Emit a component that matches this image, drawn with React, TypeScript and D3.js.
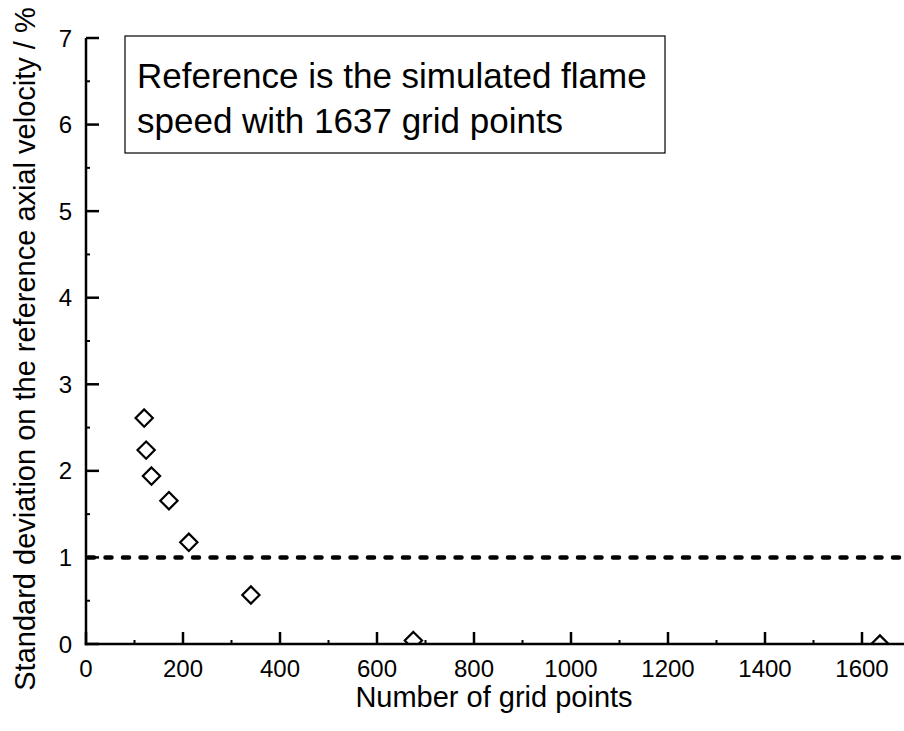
import React from "react";
import * as d3 from "d3";

const gridPoints = [120, 124, 135, 171, 212, 340, 675, 1637];
const stdDev = [2.61, 2.24, 1.94, 1.655, 1.175, 0.566, 0.04, 0];
const xTicks = [0, 200, 400, 600, 800, 1000, 1200, 1400, 1600];
const yTicks = [0, 1, 2, 3, 4, 5, 6, 7];
const thresholdValue = 1;
const xTitle = "Number of grid points";
const yTitle = "Standard deviation on the reference axial velocity / %";
const noteLines = ["Reference is the simulated flame", "speed with 1637 grid points"];

const W = 904;
const H = 731;
const left = 86;
const top = 38;
const bottom = 644;
const font = "Arial, 'Liberation Sans', sans-serif";

export default function App() {
  const x = d3.scaleLinear().domain([0, 1700]).range([left, left + 1700 * 0.485]);
  const y = d3.scaleLinear().domain([0, 7]).range([bottom, top]);
  const right = W;
  const xMinor = d3.range(100, 1700, 200);
  const yMinor = d3.range(0.5, 7, 1);
  const diamond = d3.symbol().type(d3.symbolDiamond2).size(190)();

  return (
    <svg width={W} height={H} style={{ position: "absolute", left: 0, top: 0, background: "#fff" }} fontFamily={font}>
      <defs>
        <clipPath id="plotclip">
          <rect x={left} y={top - 10} width={right - left} height={bottom - top + 10} />
        </clipPath>
      </defs>
      <rect x={0} y={0} width={W} height={H} fill="#fff" />
      {/* threshold dashed line */}
      <line
        x1={left + 2}
        x2={right}
        y1={y(thresholdValue)}
        y2={y(thresholdValue)}
        stroke="#000"
        strokeWidth={4.5}
        strokeDasharray="6 11.5"
        strokeLinecap="round"
      />
      {/* markers */}
      <g clipPath="url(#plotclip)">
        {gridPoints.map((g, i) => (
          <path
            key={i}
            d={diamond || ""}
            transform={`translate(${x(g)},${y(stdDev[i])})`}
            fill="#fff"
            stroke="#000"
            strokeWidth={2.2}
          />
        ))}
      </g>
      {/* axes */}
      <line x1={left} x2={left} y1={top} y2={bottom + 1.25} stroke="#000" strokeWidth={2.5} />
      <line x1={left - 1.25} x2={right} y1={bottom} y2={bottom} stroke="#000" strokeWidth={2.5} />
      {xTicks.map((t) => (
        <g key={"xt" + t}>
          <line x1={x(t)} x2={x(t)} y1={bottom} y2={bottom - 12} stroke="#000" strokeWidth={2.5} />
          <text x={x(t)} y={677} textAnchor="middle" fontSize={24} fill="#000">
            {t}
          </text>
        </g>
      ))}
      {xMinor.map((t) => (
        <line key={"xm" + t} x1={x(t)} x2={x(t)} y1={bottom} y2={bottom - 4} stroke="#000" strokeWidth={2} />
      ))}
      {yTicks.map((t) => (
        <g key={"yt" + t}>
          <line x1={left} x2={left + 13} y1={y(t)} y2={y(t)} stroke="#000" strokeWidth={2.5} />
          <text x={72} y={y(t) + 8.5} textAnchor="end" fontSize={24} fill="#000">
            {t}
          </text>
        </g>
      ))}
      {yMinor.map((t) => (
        <line key={"ym" + t} x1={left} x2={left + 4} y1={y(t)} y2={y(t)} stroke="#000" strokeWidth={2} />
      ))}
      {/* titles */}
      <text x={494} y={707} textAnchor="middle" fontSize={29} fill="#000">
        {xTitle}
      </text>
      <text transform={`translate(35,349) rotate(-90)`} textAnchor="middle" fontSize={29} fill="#000">
        {yTitle}
      </text>
      {/* note box */}
      <rect x={125} y={36} width={540} height={117} fill="#fff" stroke="#000" strokeWidth={1.2} />
      {noteLines.map((l, i) => (
        <text key={i} x={137} y={88 + i * 45} fontSize={35} fill="#000">
          {l}
        </text>
      ))}
    </svg>
  );
}
